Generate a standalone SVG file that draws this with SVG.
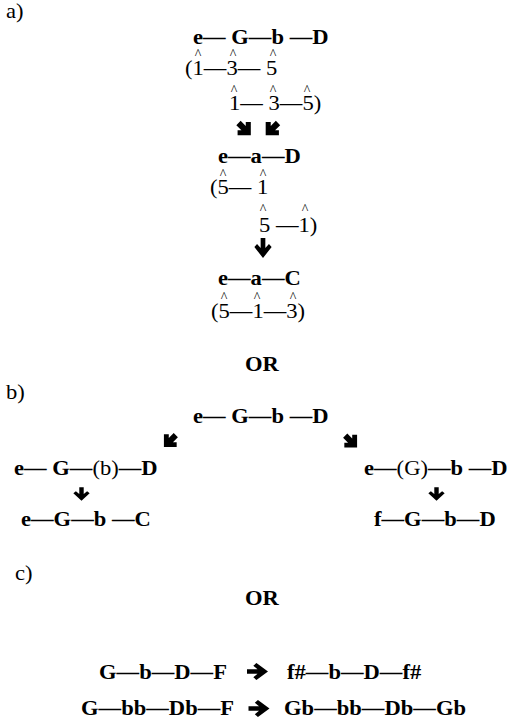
<svg xmlns="http://www.w3.org/2000/svg" width="507" height="721" viewBox="0 0 507 721">
<style>
text{font-family:"Liberation Serif","Times New Roman",serif;font-size:20px;fill:#000}
.b{font-weight:bold}
.c{font-size:14px;text-anchor:middle}
.arr{fill:#000}
</style>
<defs>
<path id="ad" d="M -2.6,-10 L 2.6,-10 L 2.6,0 L 6.6,-4 L 9.6,-1 L 0,10 L -9.6,-1 L -6.6,-4 L -2.6,0 Z"/>
<path id="dg" d="M -3.6,-10 L 3.6,-10 L 3.6,-1.5 L 6.8,-4.7 L 11,-0.5 L 0,10.5 L -11,-0.5 L -6.8,-4.7 L -3.6,-1.5 Z"/>
</defs>
<rect width="507" height="721" fill="#fff"/>

<g id="label-a"><text transform="matrix(1.13 0 0 1 6 18)">a)</text></g>

<g id="a-top"><text class="b" transform="matrix(1.13 0 0 1 193 44)">e— G—b —D</text></g>
<g id="a-deg1">
<text class="c" x="198" y="58.5">^</text><text class="c" x="233" y="58.5">^</text><text class="c" x="273" y="58.5">^</text>
<text transform="matrix(1.13 0 0 1 185 75)">(1—3— 5</text>
</g>
<g id="a-deg2">
<text class="c" x="234" y="94.5">^</text><text class="c" x="273" y="94.5">^</text><text class="c" x="307" y="94.5">^</text>
<text transform="matrix(1.13 0 0 1 229 110)">1— 3—5)</text>
</g>
<g id="a-mid"><text class="b" transform="matrix(1.13 0 0 1 218 163)">e—a—D</text></g>
<g id="a-deg3">
<text class="c" x="223" y="178.5">^</text><text class="c" x="263" y="178.5">^</text>
<text transform="matrix(1.13 0 0 1 210 194)">(5— 1</text>
</g>
<g id="a-deg4">
<text class="c" x="263" y="213.5">^</text><text class="c" x="305" y="213.5">^</text>
<text transform="matrix(1.13 0 0 1 259 232)">5 —1)</text>
</g>
<g id="a-bot"><text class="b" transform="matrix(1.13 0 0 1 218 285)">e—a—C</text></g>
<g id="a-deg5">
<text class="c" x="224" y="301.5">^</text><text class="c" x="257" y="301.5">^</text><text class="c" x="293" y="301.5">^</text>
<text transform="matrix(1.13 0 0 1 211 318)">(5—1—3)</text>
</g>
<g id="or1"><text class="b" transform="matrix(1.13 0 0 1 245 371)">OR</text></g>

<g id="label-b"><text transform="matrix(1.13 0 0 1 6 399)">b)</text></g>
<g id="b-top"><text class="b" transform="matrix(1.13 0 0 1 193 423)">e— G—b —D</text></g>
<g id="b-left"><text class="b" transform="matrix(1.13 0 0 1 14 475)">e— G—<tspan font-weight="normal">(b)</tspan>—D</text></g>
<g id="b-right"><text class="b" transform="matrix(1.13 0 0 1 364 475)">e—<tspan font-weight="normal">(G)</tspan>—b —D</text></g>
<g id="b-left2"><text class="b" transform="matrix(1.13 0 0 1 21 526)">e—G—b —C</text></g>
<g id="b-right2"><text class="b" transform="matrix(1.13 0 0 1 374 526)">f—G—b—D</text></g>

<g id="label-c"><text transform="matrix(1.13 0 0 1 15 580)">c)</text></g>
<g id="or2"><text class="b" transform="matrix(1.13 0 0 1 245 605)">OR</text></g>
<g id="c1-left"><text class="b" transform="matrix(1.13 0 0 1 99 679)">G—b—D—F</text></g>
<g id="c1-right"><text class="b" transform="matrix(1.13 0 0 1 287 679)">f#—b—D—f#</text></g>
<g id="c2-left"><text class="b" transform="matrix(1.13 0 0 1 81 715)">G—bb—Db—F</text></g>
<g id="c2-right"><text class="b" transform="matrix(1.13 0 0 1 284 715)">Gb—bb—Db—Gb</text></g>

<g id="connectors" class="arr">
<use href="#dg" transform="translate(244.5 129) rotate(-45) scale(0.85)"/>
<use href="#dg" transform="translate(272 129) rotate(45) scale(0.85)"/>
<use href="#ad" transform="translate(263 248) scale(0.9 1)"/>
<use href="#dg" transform="translate(170 441) rotate(45) scale(0.82)"/>
<use href="#dg" transform="translate(351 441.5) rotate(-45) scale(0.82)"/>
<use href="#ad" transform="translate(81.5 494) scale(0.85 0.68)"/>
<use href="#ad" transform="translate(436.5 494) scale(0.85 0.68)"/>
<use href="#ad" transform="translate(257.5 671.5) rotate(-90) scale(0.88 1.05)"/>
<use href="#ad" transform="translate(259 708.5) rotate(-90) scale(0.88 1.05)"/>
</g>
</svg>
